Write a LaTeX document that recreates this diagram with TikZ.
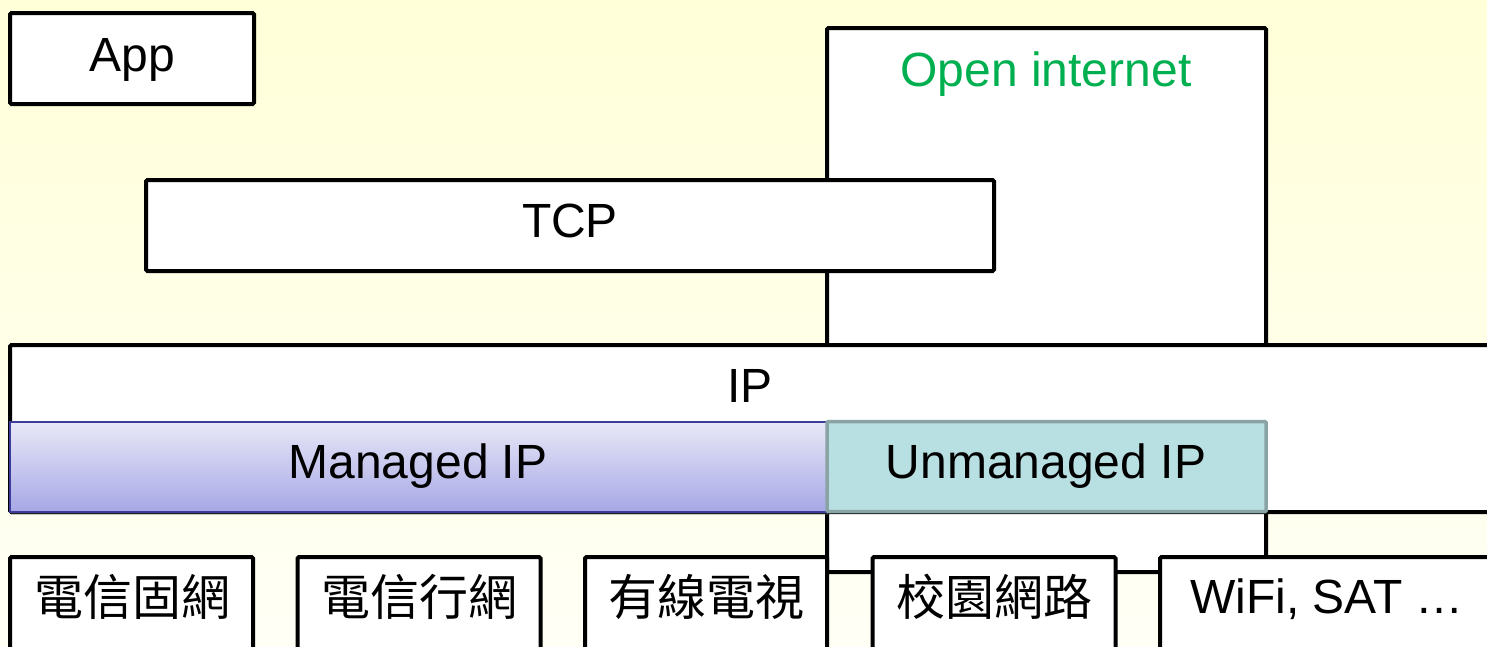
\documentclass[tikz,border=0pt]{standalone}
\usepackage{fontspec}
\setmainfont{Liberation Sans}
\newfontfamily\cjk{Noto Sans CJK TC}
\usetikzlibrary{shadows}

\definecolor{bgtop}{HTML}{FFFFD8}
\definecolor{bgbot}{HTML}{FFFFF6}
\definecolor{opengreen}{HTML}{00B050}
\definecolor{mgtop}{HTML}{E8E8F8}
\definecolor{mgbot}{HTML}{A7A7E5}
\definecolor{mgline}{HTML}{3C3C9A}
\definecolor{umfill}{HTML}{B8DFE2}
\definecolor{umline}{HTML}{8AA4A6}

\tikzset{
  layerbox/.style={draw=black, fill=white, line width=4pt, rounded corners=1.5pt,
    inner sep=0pt, outer sep=0pt, anchor=north west, rectangle},
  label48/.style={inner sep=0pt, anchor=base, font=\fontsize{48}{56}\selectfont},
  cjk48/.style={inner sep=0pt, font=\cjk\fontsize{49}{56}\selectfont},
}

\begin{document}
\begin{tikzpicture}[x=1pt, y=-1pt]
  % page and background
  \useasboundingbox (0,0) rectangle (1487,646);
  \shade[top color=bgtop, bottom color=bgbot] (0,0) rectangle (1487,646);

  % open internet column (sits behind the protocol layers)
  \node[layerbox, minimum width=439pt, minimum height=544pt] (open) at (827,28) {};
  \node[label48, text=opengreen] (opentxt) at (1046,86) {Open internet};

  % application and transport layers
  \node[layerbox, minimum width=244pt, minimum height=91pt] (app) at (10,13) {};
  \node[label48] (apptxt) at (132,71) {App};
  \node[layerbox, minimum width=848pt, minimum height=91pt] (tcp) at (146,180) {};
  \node[label48] (tcptxt) at (570,237) {TCP};

  % network layer
  \node[layerbox, minimum width=1500pt, minimum height=167pt] (ip) at (10,345) {};
  \node[label48] (iptxt) at (750,402) {IP};

  % managed / unmanaged parts of IP
  \node[draw=mgline, line width=2pt, top color=mgtop, bottom color=mgbot,
        inner sep=0pt, outer sep=0pt, anchor=north west,
        minimum width=817pt, minimum height=90pt,
        drop shadow={shadow xshift=1pt, shadow yshift=-3pt, opacity=0.25}] (managed) at (10,421.5) {};
  \node[label48] (managedtxt) at (418,478) {Managed IP};
  \node[draw=umline, fill=umfill, line width=3.5pt, rounded corners=1pt,
        inner sep=0pt, outer sep=0pt, anchor=north west,
        minimum width=439pt, minimum height=90pt] (unmanaged) at (827,421.5) {};
  \node[label48] (unmanagedtxt) at (1046,478) {Unmanaged IP};

  % access networks
  \node[layerbox, minimum width=243pt, minimum height=120pt] (fixed) at (10,557) {};
  \node[cjk48] (fixedtxt) at (132,597) {電信固網};
  \node[layerbox, minimum width=243pt, minimum height=120pt] (mobile) at (297.5,557) {};
  \node[cjk48] (mobiletxt) at (419,597) {電信行網};
  \node[layerbox, minimum width=242pt, minimum height=120pt] (cable) at (585,557) {};
  \node[cjk48] (cabletxt) at (706,597) {有線電視};
  \node[layerbox, minimum width=243pt, minimum height=120pt] (campus) at (872.5,557) {};
  \node[cjk48] (campustxt) at (994,597) {校園網路};
  \node[layerbox, minimum width=400pt, minimum height=120pt] (wifi) at (1160,557) {};
  \node[label48, anchor=base west] (wifitxt) at (1190,613) {WiFi, SAT \ldots};
\end{tikzpicture}
\end{document}
